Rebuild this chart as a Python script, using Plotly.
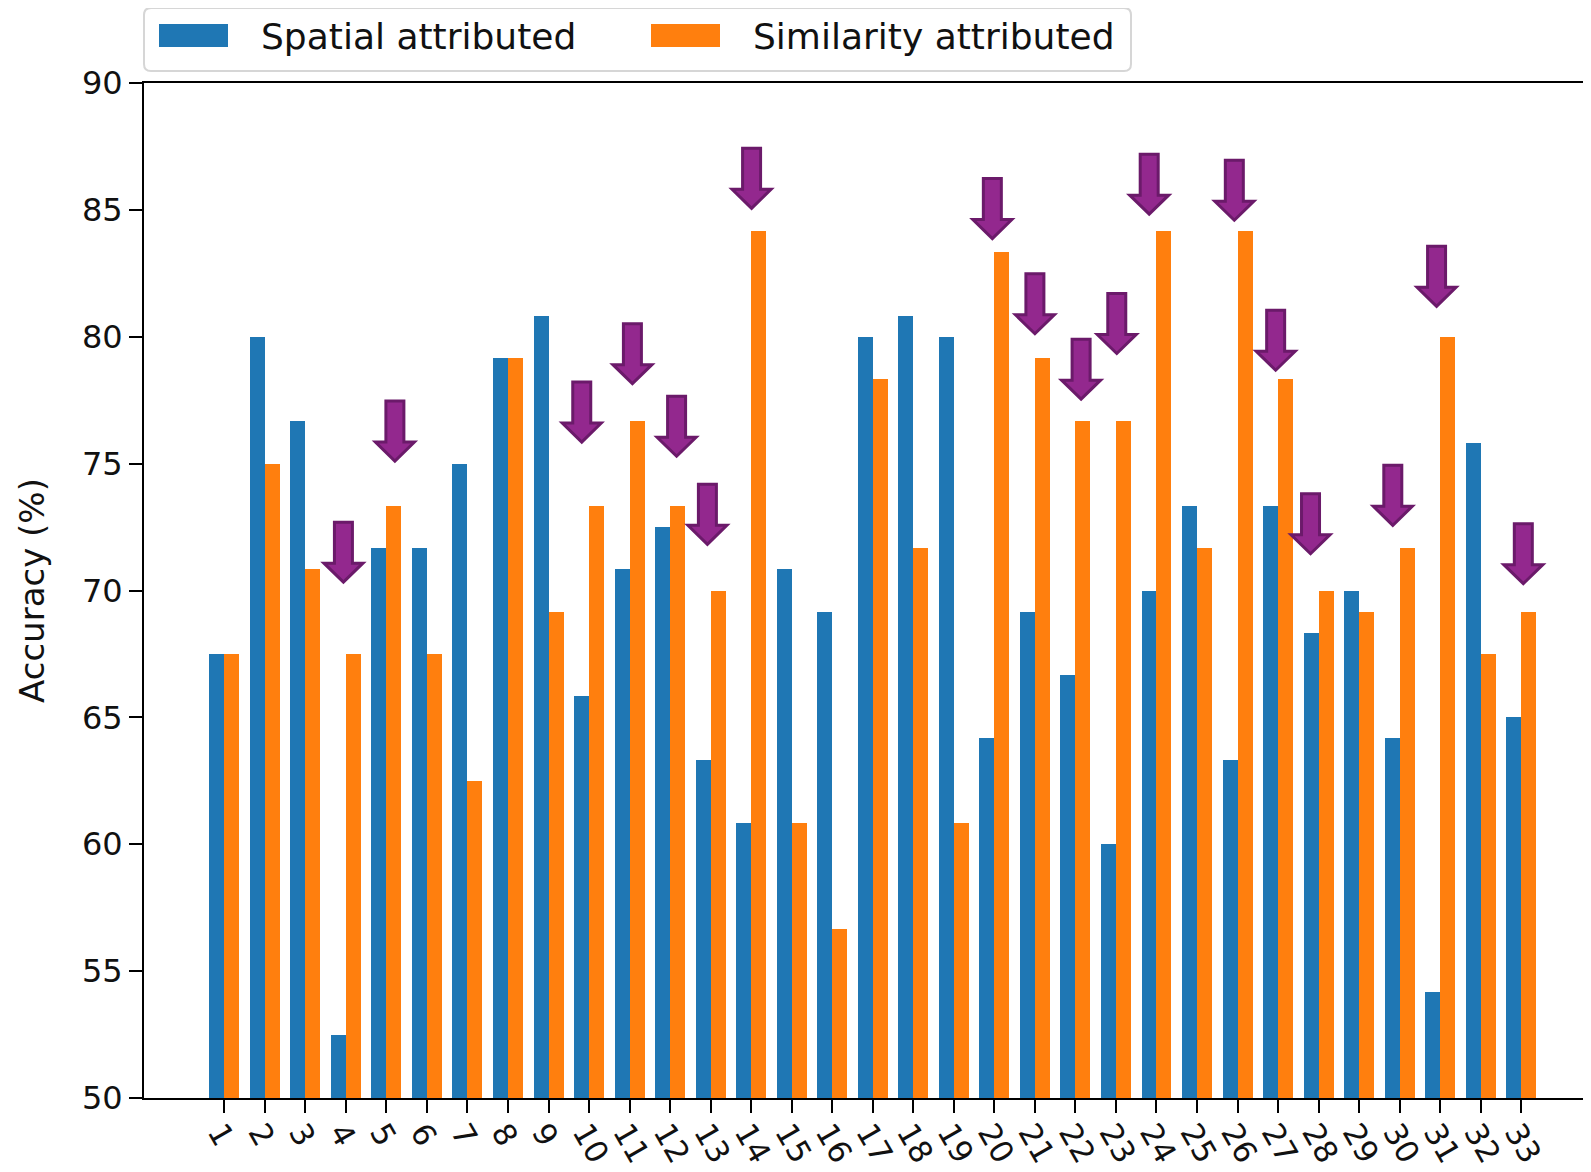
import plotly.graph_objects as go

# ---- data ----
categories = list(range(1, 34))
tick_labels = [str(c) for c in categories]
spatial = [67.5, 80.0, 76.67, 52.5, 71.67, 71.67, 75.0, 79.17, 80.83, 65.83, 70.83,
           72.5, 63.33, 60.83, 70.83, 69.17, 80.0, 80.83, 80.0, 64.17, 69.17, 66.67,
           60.0, 70.0, 73.33, 63.33, 73.33, 68.33, 70.0, 64.17, 54.17, 75.83, 65.0]
similarity = [67.5, 75.0, 70.83, 67.5, 73.33, 67.5, 62.5, 79.17, 69.17, 73.33, 76.67,
              73.33, 70.0, 84.17, 60.83, 56.67, 78.33, 71.67, 60.83, 83.33, 79.17, 76.67,
              76.67, 84.17, 71.67, 84.17, 78.33, 70.0, 69.17, 71.67, 80.0, 67.5, 69.17]

# hand-placed arrow markers (x position in category units, y of arrow tip)
arrow_x = [3.94, 5.21, 9.82, 11.07, 12.16, 12.92, 14.01, 19.95, 21.0, 22.14, 23.02,
           23.82, 25.92, 26.94, 27.80, 29.83, 30.91, 33.05]
arrow_tip = [70.33, 75.1, 75.85, 78.15, 75.29, 71.82, 85.06, 83.87, 80.12, 77.54, 79.34,
             84.83, 84.59, 78.68, 71.45, 72.57, 81.2, 70.27]

series_names = ["Spatial attributed", "Similarity attributed"]
colors = ["#1f77b4", "#ff7f0e"]

FONT = "DejaVu Sans"
BAR_W = 0.37

fig = go.Figure()
fig.add_trace(go.Bar(x=categories, y=spatial, name=series_names[0], marker_color=colors[0],
                     marker_line_width=0, width=BAR_W, offset=-BAR_W))
fig.add_trace(go.Bar(x=categories, y=similarity, name=series_names[1], marker_color=colors[1],
                     marker_line_width=0, width=BAR_W, offset=0))

# block arrows (pixel-sized, anchored at data coordinates)
arrow_path = "M -9,60 L 9,60 L 9,19 L 19.5,19 L 0,0 L -19.5,19 L -9,19 Z"
for ax_, ay_ in zip(arrow_x, arrow_tip):
    fig.add_shape(type="path", xref="x", yref="y", xsizemode="pixel", ysizemode="pixel",
                  xanchor=ax_, yanchor=ay_, path=arrow_path,
                  fillcolor="#93288E", line=dict(color="#6B1A6A", width=3), layer="above")

# manual legend (matplotlib style) anchored at top-left of plot area
def rr(x0, y0, x1, y1, r):
    return (f"M {x0+r},{y0} L {x1-r},{y0} Q {x1},{y0} {x1},{y0+r} L {x1},{y1-r} "
            f"Q {x1},{y1} {x1-r},{y1} L {x0+r},{y1} Q {x0},{y1} {x0},{y1-r} "
            f"L {x0},{y0+r} Q {x0},{y0} {x0+r},{y0} Z")

fig.add_shape(type="path", xref="paper", yref="paper", xsizemode="pixel", ysizemode="pixel",
              xanchor=0, yanchor=1, path=rr(0, 12, 987, 75, 7),
              fillcolor="white", line=dict(color="#d6d6d6", width=2), layer="above")
leg_patch_x = [15, 507]
leg_text_x = [115, 607]
for i in range(2):
    fig.add_shape(type="rect", xref="paper", yref="paper", xsizemode="pixel", ysizemode="pixel",
                  xanchor=0, yanchor=1, x0=leg_patch_x[i], x1=leg_patch_x[i] + 69, y0=36, y1=59,
                  fillcolor=colors[i], line=dict(width=0), layer="above")
    fig.add_annotation(xref="paper", yref="paper", x=0, y=1, xanchor="left", yanchor="middle",
                       xshift=leg_text_x[i], yshift=47, text=series_names[i], showarrow=False,
                       font=dict(family=FONT, size=36, color="#111111"))

# page body has an 8px default margin: size the figure so it ends at the window edge
fig.update_layout(
    width=1583, height=1164,
    margin=dict(l=136, r=0, t=75, b=74),
    plot_bgcolor="white", paper_bgcolor="white",
    barmode="overlay", showlegend=False, bargap=0,
    font=dict(family=FONT, size=32, color="#111111"),
)
fig.update_xaxes(range=[-0.98, 34.72], tickmode="array", tickvals=categories, ticktext=tick_labels,
                 tickangle=60, ticks="outside", ticklen=13, tickwidth=2, tickcolor="black",
                 ticklabelstandoff=-11, ticklabelshift=-4,
                 showline=True, linewidth=2, linecolor="black", mirror=True, automargin=False,
                 showgrid=False, zeroline=False, tickfont=dict(family=FONT, size=31, color="#111111"))
fig.update_yaxes(range=[50, 90], dtick=5, tick0=50, ticks="outside", ticklen=13, tickwidth=2,
                 tickcolor="black", showline=True, linewidth=2, linecolor="black", automargin=False,
                 showgrid=False, zeroline=False, tickfont=dict(family=FONT, size=32, color="#111111"),
                 title=dict(text="Accuracy (%)", font=dict(family=FONT, size=34, color="#111111"),
                            standoff=27))

fig.write_html("out.html")
